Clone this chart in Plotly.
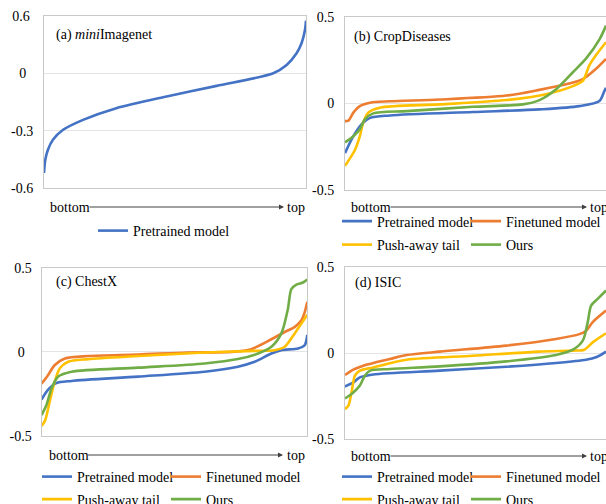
import plotly.graph_objects as go

W, H = 606, 504
FONT = "Liberation Serif, Times New Roman, serif"
BLUE, ORANGE, YELLOW, GREEN = "#4472C4", "#ED7D31", "#FFC000", "#70AD47"

# ---------------- data (rank position 0..100 from bottom to top) ----------------
# (a) miniImagenet
a_pre_x = [0, 0.5, 1.5, 3.4, 7.3, 14.9, 27.6, 46.8, 65.9, 87.5, 92.6, 96.4, 98.3, 99.6, 100]
a_pre_y = [-0.52, -0.451, -0.399, -0.347, -0.295, -0.243, -0.182, -0.121, -0.066, 0.0, 0.043, 0.104, 0.156, 0.225, 0.274]
a_ticks = [-0.6, -0.3, 0, 0.3]
a_ticktext = ["-0.6", "-0.3", "0\u00a0\u00a0", "0.6\u00a0"]

# (b) CropDiseases
b_pre_x = [0, 3.2, 6.4, 9.6, 17.2, 49, 74.5, 89.8, 97.5, 99.4, 100]
b_pre_y = [-0.288, -0.19, -0.12, -0.084, -0.07, -0.05, -0.035, -0.016, 0.014, 0.072, 0.09]
b_fin_x = [0, 1.3, 3.2, 5.7, 9.6, 17.2, 36.3, 61.8, 74.5, 84.7, 91.1, 96.2, 100]
b_fin_y = [-0.103, -0.10, -0.054, -0.016, 0.004, 0.012, 0.022, 0.045, 0.078, 0.11, 0.14, 0.2, 0.257]
b_push_x = [0, 3.8, 5.7, 7.0, 8.9, 13.4, 36.3, 61.8, 77, 87.3, 91.1, 93.6, 96.2, 100]
b_push_y = [-0.362, -0.27, -0.19, -0.11, -0.054, -0.025, -0.006, 0.019, 0.053, 0.1, 0.13, 0.22, 0.28, 0.354]
b_ours_x = [0, 3.2, 5.7, 7.6, 10.8, 23.6, 49, 68.2, 74.5, 80.9, 87.3, 92.4, 97.5, 100]
b_ours_y = [-0.226, -0.19, -0.15, -0.093, -0.058, -0.045, -0.02, -0.006, 0.019, 0.082, 0.18, 0.26, 0.37, 0.45]
bcd_ticks = [-0.5, 0, 0.5]
bd_ticktext = ["-0.5", "0", "0.5"]

# (c) ChestX
c_pre_x = [0, 2.5, 5.6, 11.3, 36.3, 61.4, 73.9, 80.2, 86.5, 90.2, 96.5, 99, 100]
c_pre_y = [-0.284, -0.225, -0.186, -0.173, -0.147, -0.118, -0.088, -0.059, -0.01, 0.01, 0.02, 0.039, 0.1]
c_fin_x = [0, 2.5, 5, 8.8, 17.5, 36.3, 55.1, 71.4, 78.9, 86.5, 91.5, 95.2, 97.7, 99, 100]
c_fin_y = [-0.19, -0.137, -0.078, -0.039, -0.025, -0.016, -0.004, 0, 0.016, 0.075, 0.118, 0.147, 0.186, 0.235, 0.298]
c_push_x = [0, 1.3, 3.1, 5, 6.9, 10, 17.5, 36.3, 61.4, 80.2, 87.7, 91.5, 95.2, 100]
c_push_y = [-0.44, -0.41, -0.294, -0.176, -0.098, -0.059, -0.043, -0.025, -0.004, 0.006, 0.01, 0.03, 0.108, 0.22]
c_ours_x = [0, 1.9, 3.8, 6.3, 11.3, 36.3, 61.4, 73.9, 81.5, 86.5, 90.2, 92.7, 94, 95.9, 98.4, 100]
c_ours_y = [-0.376, -0.314, -0.216, -0.147, -0.118, -0.094, -0.069, -0.043, -0.01, 0.03, 0.108, 0.255, 0.373, 0.4, 0.412, 0.43]
c_ticktext = ["-0.5", "0\u00a0\u00a0", "0.5"]

# (d) ISIC
d_pre_x = [0, 3.2, 5.7, 10.8, 36.3, 61.8, 80.9, 92.4, 96.2, 100]
d_pre_y = [-0.195, -0.171, -0.142, -0.125, -0.103, -0.08, -0.058, -0.039, -0.025, 0.008]
d_fin_x = [0, 3.2, 7, 17.2, 23.6, 36.3, 61.8, 80.9, 89.8, 92.4, 94.9, 100]
d_fin_y = [-0.128, -0.097, -0.074, -0.035, -0.012, 0.008, 0.043, 0.082, 0.11, 0.13, 0.18, 0.247]
d_push_x = [0, 1.3, 2.5, 3.8, 5.7, 10.8, 23.6, 49, 74.5, 87.3, 91.7, 94.9, 100]
d_push_y = [-0.327, -0.307, -0.23, -0.132, -0.103, -0.084, -0.039, -0.016, 0.008, 0.014, 0.019, 0.062, 0.115]
d_ours_x = [0, 3.2, 5.7, 7.6, 9.6, 17.2, 36.3, 61.8, 80.9, 87.3, 91.1, 93, 94.3, 96.8, 100]
d_ours_y = [-0.265, -0.23, -0.19, -0.132, -0.103, -0.093, -0.078, -0.049, -0.012, 0.019, 0.072, 0.18, 0.276, 0.315, 0.364]

titles = ["(a) <i>mini</i>Imagenet", "(b) CropDiseases", "(c) ChestX", "(d) ISIC"]
names = ["Pretrained model", "Finetuned model", "Push-away tail", "Ours"]

# ---------------- layout helpers (pixel -> paper) ----------------
def px(x):
    return x / W

def py(y):
    return 1 - y / H

# panel boxes: (left, right, top, bottom) in pixels
boxes = [(44, 306, 15.7, 188.3), (345, 606, 17, 189.7), (41.5, 307.3, 267.7, 436), (345, 606, 267.2, 438.8)]

series = [
    [(names[0], a_pre_x, a_pre_y, BLUE)],
    [(names[0], b_pre_x, b_pre_y, BLUE), (names[1], b_fin_x, b_fin_y, ORANGE),
     (names[2], b_push_x, b_push_y, YELLOW), (names[3], b_ours_x, b_ours_y, GREEN)],
    [(names[0], c_pre_x, c_pre_y, BLUE), (names[1], c_fin_x, c_fin_y, ORANGE),
     (names[2], c_push_x, c_push_y, YELLOW), (names[3], c_ours_x, c_ours_y, GREEN)],
    [(names[0], d_pre_x, d_pre_y, BLUE), (names[1], d_fin_x, d_fin_y, ORANGE),
     (names[2], d_push_x, d_push_y, YELLOW), (names[3], d_ours_x, d_ours_y, GREEN)],
]

# legend entry positions: (text-left px, center-y px)
leg_pos = [
    [(133, 231)],
    [(377, 221.5), (506, 221.5), (377, 245), (506, 245)],
    [(77, 477), (206, 477), (77, 499.5), (206, 499.5)],
    [(377, 477), (506, 477), (377, 499.5), (506, 499.5)],
]
title_pos = [(54, 35), (352, 37), (54, 282), (353, 283)]
# bottom->top rows: (bottom-left px, arrow start px, arrow end px, top-left px, y px)
arrow_rows = [(47.5, 88, 284, 285, 207), (349, 389, 587, 588, 207),
              (47, 86, 283, 284.5, 455), (349, 389, 587, 588, 456)]
standoffs = [7, 7, 6, 7]

fig = go.Figure()
layout = dict(width=W, height=H, margin=dict(l=0, r=0, t=0, b=0, autoexpand=False),
              paper_bgcolor="white", plot_bgcolor="white",
              font=dict(family=FONT, size=14, color="black"))
annotations = []
leg_idx = 0
for i, (box, ser) in enumerate(zip(boxes, series)):
    sfx = "" if i == 0 else str(i + 1)
    l, r, t, b = box
    layout["xaxis" + sfx] = dict(domain=[px(l), min(1.0, px(r))], anchor="y" + sfx, range=[0, 100],
                                 showticklabels=False, showgrid=False, zeroline=False, ticks="",
                                 showline=True, mirror=True, linecolor="#C9C9C9", linewidth=1)
    if i == 0:
        tv, tt, rng = a_ticks, a_ticktext, [-0.6, 0.3]
    elif i == 2:
        tv, tt, rng = bcd_ticks, c_ticktext, [-0.5, 0.5]
    else:
        tv, tt, rng = bcd_ticks, bd_ticktext, [-0.5, 0.5]
    layout["yaxis" + sfx] = dict(domain=[py(b), py(t)], anchor="x" + sfx, range=rng,
                                 tickvals=tv, ticktext=tt, ticks="", showgrid=True,
                                 gridcolor="#E4E4E4", gridwidth=1, zeroline=False,
                                 showline=True, mirror=(i in (0, 2)), linecolor="#C9C9C9",
                                 linewidth=1, ticklabelstandoff=standoffs[i],
                                 tickfont=dict(family=FONT, size=14, color="black"))
    for j, (nm, xs, ys, col) in enumerate(ser):
        leg_idx += 1
        lid = "legend" if leg_idx == 1 else "legend%d" % leg_idx
        fig.add_trace(go.Scatter(x=xs, y=ys, name=nm, mode="lines",
                                 line=dict(color=col, width=2.6, shape="spline", smoothing=0.8),
                                 xaxis="x" + sfx, yaxis="y" + sfx, legend=lid, showlegend=True))
        tx, ty = leg_pos[i][j]
        layout[lid] = dict(x=px(tx - 40), y=py(ty), xanchor="left", yanchor="middle",
                           orientation="h", bgcolor="rgba(0,0,0,0)", borderwidth=0,
                           font=dict(family=FONT, size=14, color="black"))
    tx, ty = title_pos[i]
    annotations.append(dict(text=titles[i], x=px(tx), y=py(ty), xref="paper", yref="paper",
                            xanchor="left", yanchor="middle", showarrow=False,
                            font=dict(family=FONT, size=14, color="black")))
    bl, a0, a1, tl, ay = arrow_rows[i]
    annotations.append(dict(text="bottom", x=px(bl), y=py(ay), xref="paper", yref="paper",
                            xanchor="left", yanchor="middle", showarrow=False))
    annotations.append(dict(text="top", x=px(tl), y=py(ay), xref="paper", yref="paper",
                            xanchor="left", yanchor="middle", showarrow=False))
    annotations.append(dict(text="", x=px(a1), y=py(ay), xref="paper", yref="paper",
                            showarrow=True, ax=-(a1 - a0), ay=0, axref="pixel", ayref="pixel",
                            arrowhead=2, arrowsize=1, arrowwidth=1, arrowcolor="#404040",
                            standoff=0, startstandoff=0))

layout["annotations"] = annotations
fig.update_layout(**layout)
# remove the default 8px page margin so the 606x504 figure fills the window exactly
fig.write_html("out.html",
               config={"displayModeBar": False},
               post_script="document.body.style.margin='0';"
                           "document.documentElement.style.overflow='hidden';"
                           "document.body.style.overflow='hidden';")
